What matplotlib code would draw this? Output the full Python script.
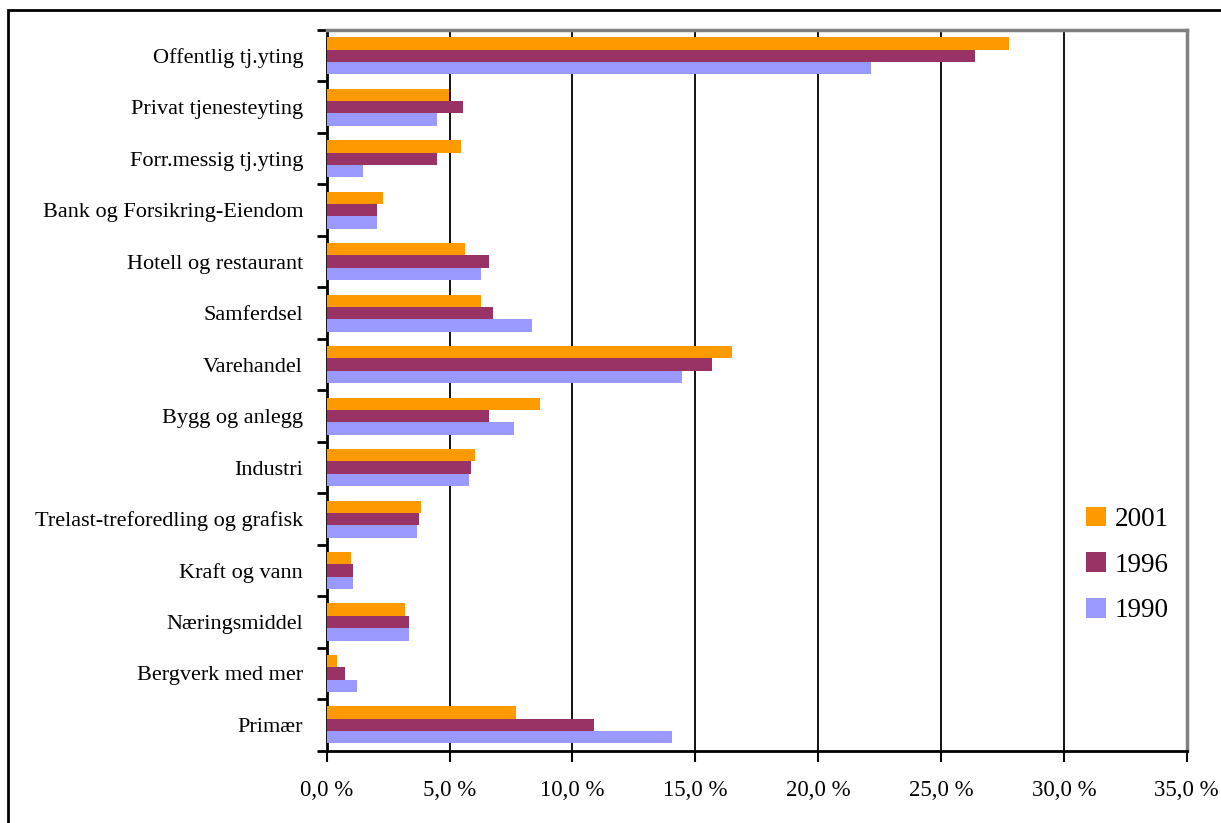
"""Sysselsetting per næring, andel i prosent (2001, 1996, 1990)."""

import matplotlib

matplotlib.use("Agg")
import matplotlib.pyplot as plt
import numpy as np
from matplotlib.patches import Rectangle
from matplotlib.ticker import FuncFormatter, MultipleLocator

NAERINGER = [
    "Offentlig tj.yting",
    "Privat tjenesteyting",
    "Forr.messig tj.yting",
    "Bank og Forsikring-Eiendom",
    "Hotell og restaurant",
    "Samferdsel",
    "Varehandel",
    "Bygg og anlegg",
    "Industri",
    "Trelast-treforedling og grafisk",
    "Kraft og vann",
    "Næringsmiddel",
    "Bergverk med mer",
    "Primær",
]
AAR = ["2001", "1996", "1990"]
ANDEL_2001 = [27.76, 4.96, 5.45, 2.28, 5.61, 6.26, 16.49, 8.70, 6.02, 3.83, 0.99, 3.18, 0.42, 7.72]
ANDEL_1996 = [26.38, 5.53, 4.48, 2.04, 6.59, 6.75, 15.68, 6.59, 5.86, 3.75, 1.07, 3.34, 0.74, 10.89]
ANDEL_1990 = [22.14, 4.48, 1.47, 2.04, 6.26, 8.37, 14.46, 7.64, 5.78, 3.66, 1.07, 3.34, 1.23, 14.05]
FARGER = ["#FF9900", "#993366", "#9999FF"]

plt.rcParams["font.family"] = ["Liberation Serif", "DejaVu Serif"]

W, H = 1221, 823
fig = plt.figure(figsize=(W / 100, H / 100), dpi=100)
# ramme rundt hele figuren (fortsetter ut over høyre og nedre kant)
fig.patches.append(
    Rectangle((8 / W, -0.05), 1.1, 1 - 10 / H + 0.05, transform=fig.transFigure,
              fill=False, edgecolor="black", linewidth=2)
)

left, right, top, bottom = 326.7, 1186.7, 30, 750.7
ax = fig.add_axes([left / W, 1 - bottom / H, (right - left) / W, (bottom - top) / H])

n = len(NAERINGER)
y = np.arange(n)
h = 0.24
for k, (verdier, farge, aar) in enumerate(zip([ANDEL_2001, ANDEL_1996, ANDEL_1990], FARGER, AAR)):
    ax.barh(y + (k - 1) * h, verdier, height=h, color=farge, label=aar, zorder=3)

ax.set_xlim(0, 35)
ax.set_ylim(n - 0.5, -0.5)
ax.xaxis.set_major_locator(MultipleLocator(5))
ax.xaxis.set_major_formatter(FuncFormatter(lambda v, _: f"{v:.1f} %".replace(".", ",")))
ax.grid(True, axis="x", color="black", linewidth=1.3, zorder=1)

# kategorigrenser som hovedmerker, navn som (usynlige) hjelpemerker
ax.set_yticks(np.arange(-0.5, n, 1.0))
ax.set_yticklabels([])
ax.set_yticks(y, minor=True)
ax.set_yticklabels(NAERINGER, minor=True)
ax.tick_params(axis="y", which="major", length=7, width=2, direction="out")
ax.tick_params(axis="y", which="minor", length=0, pad=17, labelsize=16)
ax.tick_params(axis="x", length=8, width=1.5, direction="out", pad=13, labelsize=16.5)

for side in ("left", "bottom"):
    ax.spines[side].set_color("black")
    ax.spines[side].set_linewidth(2)
for side in ("top", "right"):
    ax.spines[side].set_color("#808080")
    ax.spines[side].set_linewidth(2.5)

ax.legend(loc="center left", bbox_to_anchor=(1075 / W, 1 - 565 / H), bbox_transform=fig.transFigure,
          frameon=False, fontsize=19.5, handlelength=0.75, handleheight=0.75, handletextpad=0.3,
          labelspacing=0.75, borderaxespad=0)

fig.savefig("out.png", dpi=100)
plt.close(fig)
